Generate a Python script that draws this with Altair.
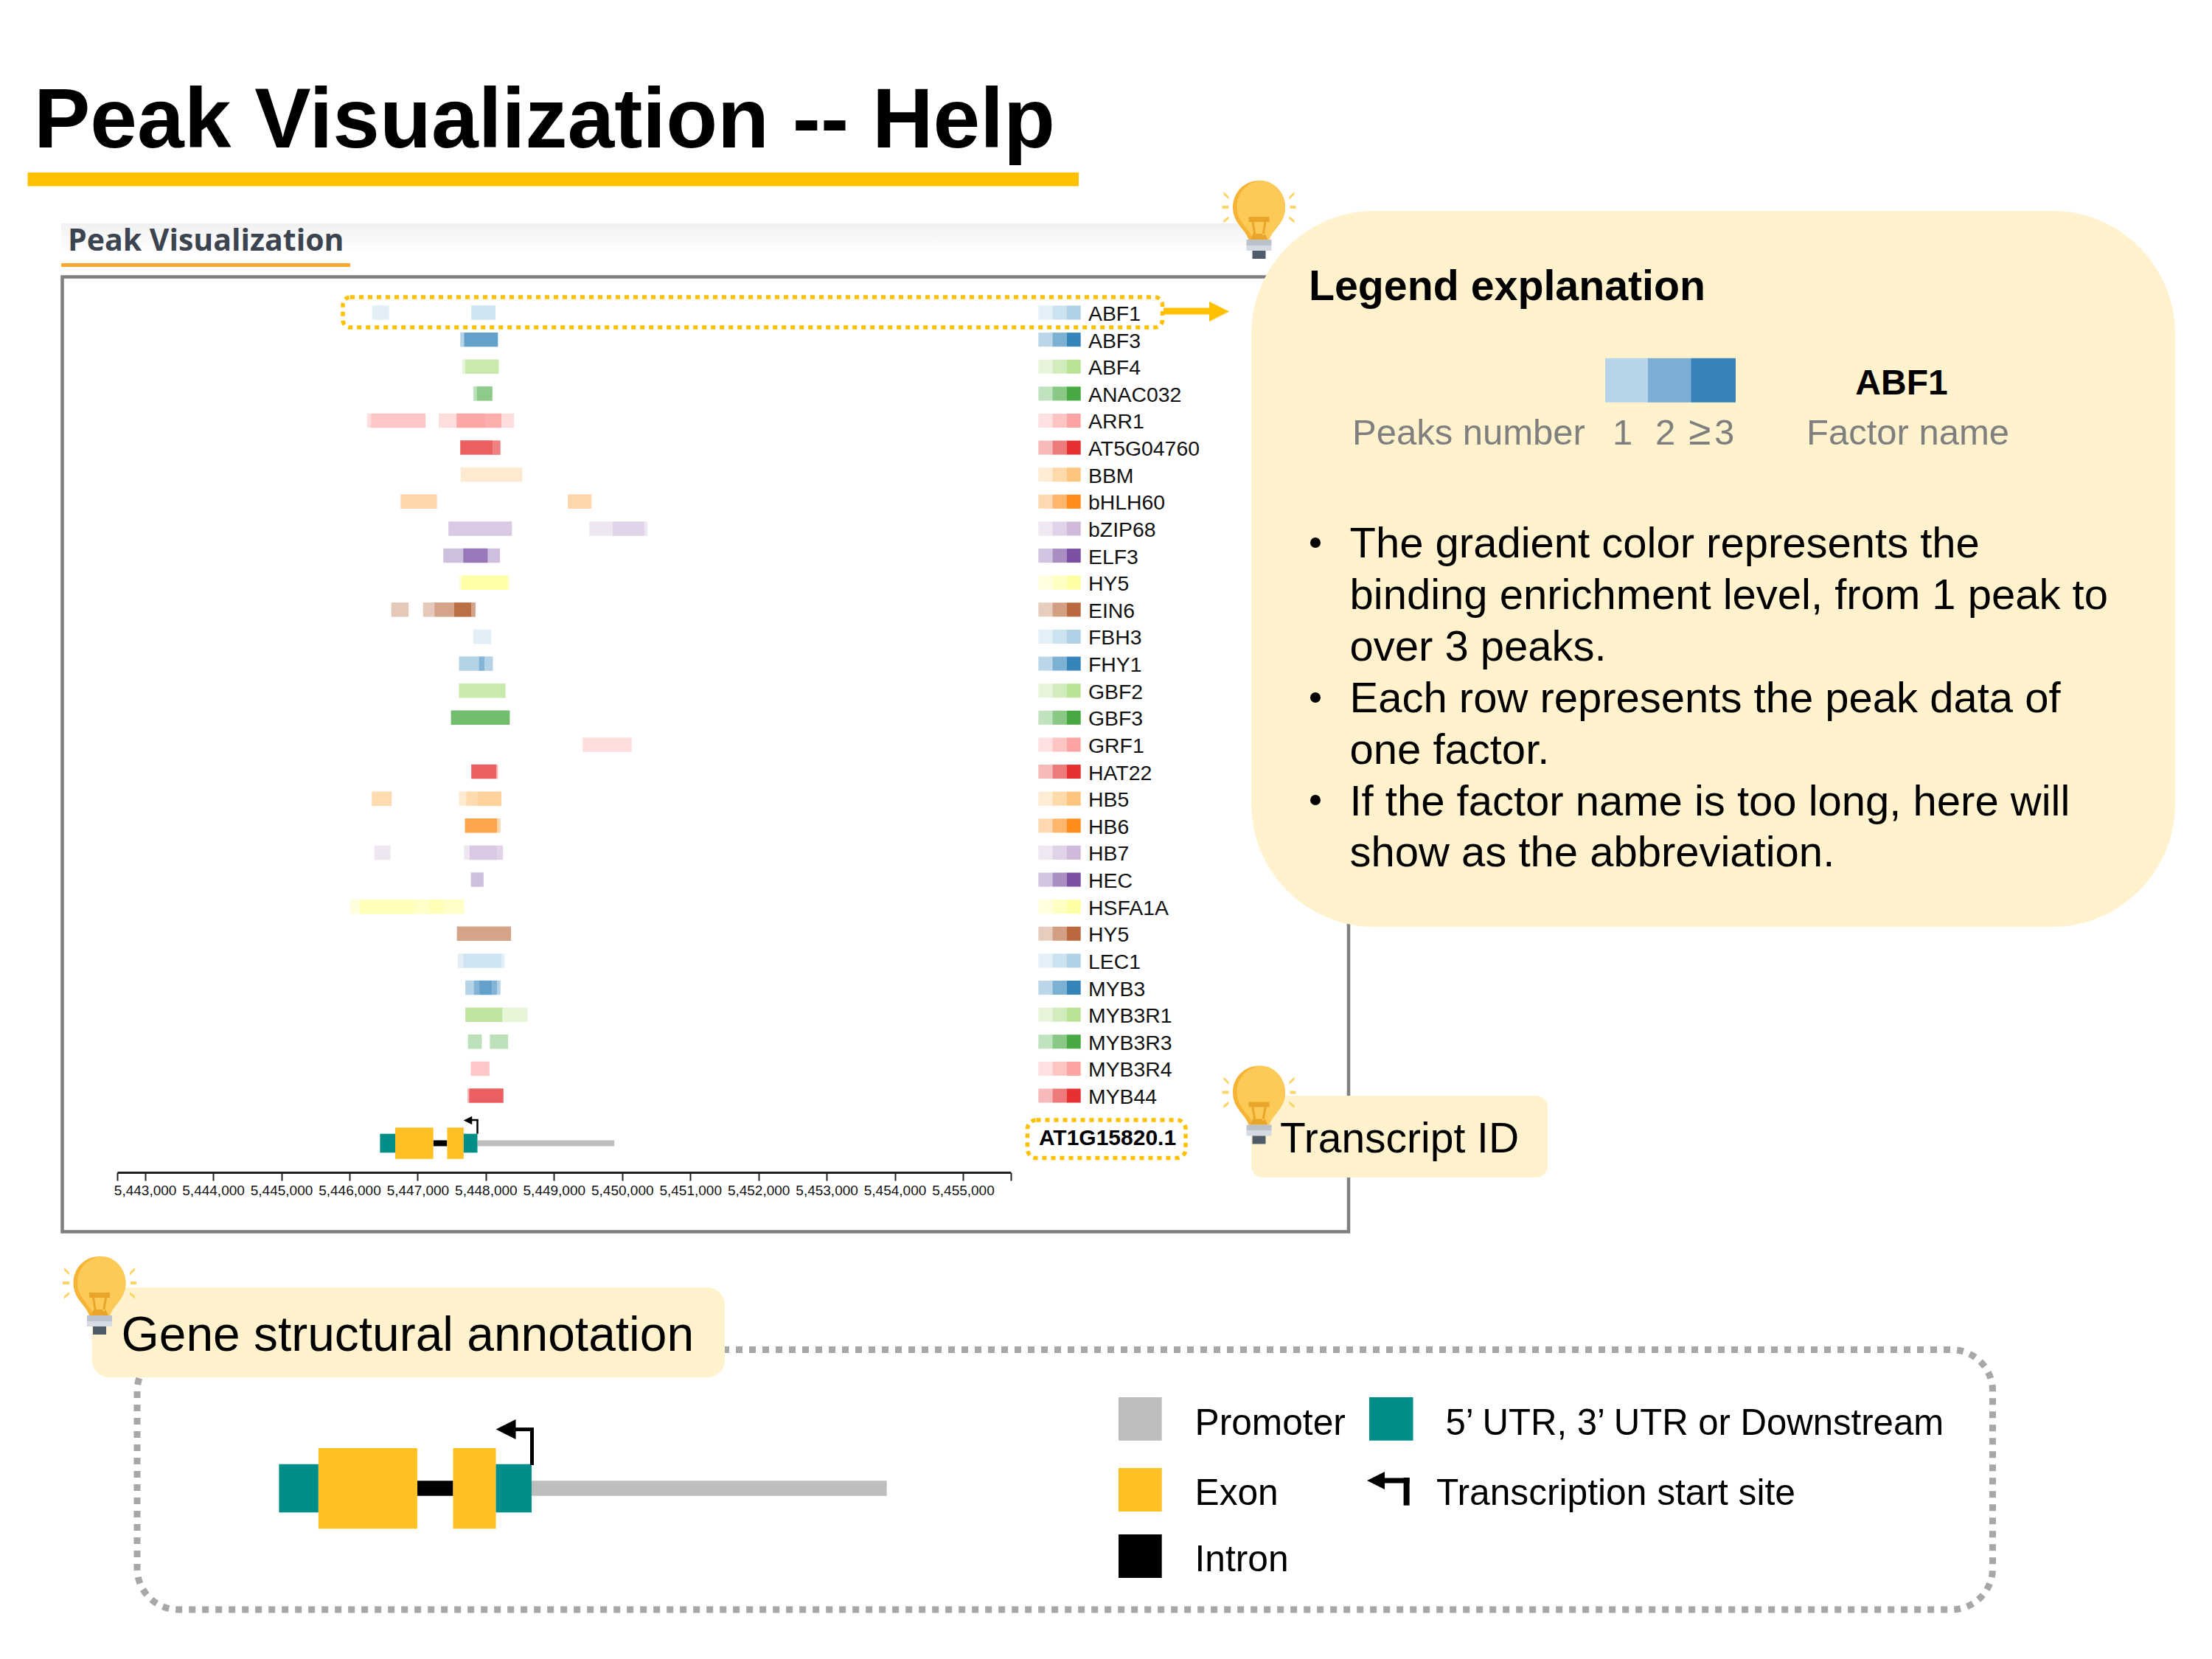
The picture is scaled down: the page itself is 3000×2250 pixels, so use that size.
import altair as alt
import pandas as pd

W, H = 2970, 2220
SANS = "Liberation Sans"

factors = ["ABF1","ABF3","ABF4","ANAC032","ARR1","AT5G04760","BBM","bHLH60","bZIP68","ELF3",
           "HY5","EIN6","FBH3","FHY1","GBF2","GBF3","GRF1","HAT22","HB5","HB6","HB7","HEC",
           "HSFA1A","HY5","LEC1","MYB3","MYB3R1","MYB3R3","MYB3R4","MYB44"]
paired = ["#a6cee3","#1f78b4","#b2df8a","#33a02c","#fb9a99","#e31a1c",
          "#fdbf6f","#ff7f00","#cab2d6","#6a3d9a","#ffff99","#b15928"]

# (start, end, overlapping peaks) per factor, genome coordinates
peaks = [
 [(5446334,5446582,1),(5447787,5448141,2)],
 [(5447625,5447681,1),(5447681,5448178,3)],
 [(5447656,5447700,1),(5447700,5448190,3)],
 [(5447818,5447867,1),(5447867,5448097,2)],
 [(5446259,5446315,1),(5446315,5447116,2),(5447309,5447570,1),(5447570,5448010,5),(5448010,5448228,4),(5448228,5448414,1)],
 [(5447625,5448104,3),(5448104,5448215,2)],
 [(5447632,5448538,1)],
 [(5446750,5447284,1),(5449203,5449550,1)],
 [(5447452,5448383,3),(5449519,5449861,1),(5449861,5450326,2),(5450326,5450370,1)],
 [(5447377,5447669,1),(5447669,5448029,3),(5448029,5448209,1)],
 [(5447607,5447644,1),(5447644,5448327,5),(5448327,5448352,1)],
 [(5446613,5446868,1),(5447079,5447247,1),(5447247,5447532,2),(5447532,5447787,5),(5447787,5447849,2)],
 [(5447818,5448079,1)],
 [(5447607,5447899,1),(5447899,5447979,2),(5447979,5448104,1)],
 [(5447607,5448290,3)],
 [(5447489,5448352,3)],
 [(5449420,5450140,1)],
 [(5447787,5448153,3),(5448153,5448178,1)],
 [(5446328,5446620,2),(5447607,5447712,1),(5447712,5447874,2),(5447874,5448228,3)],
 [(5447694,5448165,3),(5448165,5448215,1)],
 [(5446365,5446601,1),(5447681,5447762,1),(5447762,5448165,3),(5448165,5448253,2)],
 [(5447781,5447967,1)],
 [(5446011,5446148,1),(5446148,5446942,3),(5446942,5447160,2),(5447160,5447383,3),(5447383,5447681,2)],
 [(5447576,5448370,2)],
 [(5447588,5447669,1),(5447669,5448228,2),(5448228,5448277,1)],
 [(5447700,5447824,1),(5447824,5447905,2),(5447905,5448091,3),(5448091,5448165,2),(5448165,5448215,1)],
 [(5447700,5448240,4),(5448240,5448613,1)],
 [(5447737,5447942,1),(5448060,5448327,1)],
 [(5447781,5448054,2)],
 [(5447731,5447756,1),(5447756,5448259,3)],
]
swatch_levels = [1, 2, 3]
swatch_alpha = [0.3, 0.58, 0.9]
axis_ticks = list(range(5443000, 5456000, 1000))
axis_ends = [5442593, 5455700]

# gene model, genome coordinates
gene_start = [5447877, 5447230, 5446448, 5446671, 5447433, 5447675]
gene_end   = [5449886, 5447433, 5446671, 5447230, 5447675, 5447877]
gene_kind  = ["Promoter","Intron","UTR","Exon","Exon","UTR"]
kind_color = {"Promoter":"#bdbdbd","Intron":"#000000","UTR":"#008f88","Exon":"#ffc024"}
kind_height = {"Promoter":8,"Intron":8,"UTR":25.6,"Exon":42.7}

bullet_lines = ["The gradient color represents the","binding enrichment level, from 1 peak to","over 3 peaks.",
                "Each row represents the peak data of","one factor.",
                "If the factor name is too long, here will","show as the abbreviation."]

# ---------- scales
PX = alt.Scale(domain=[8, 8+W], range=[0, W], nice=False, zero=False)
PY = alt.Scale(domain=[8, 8+H], range=[0, H], nice=False, zero=False)
GX = alt.Scale(domain=axis_ends, range=[159-8, 1370.7-8], nice=False, zero=False)
GX2 = alt.Scale(domain=[5446448, 5449886], range=[378.4-8, 1202.6-8], nice=False, zero=False)
ROW = alt.Scale(domain=[0, 29], range=[424-8, 1486-8], nice=False, zero=False)
noax = dict(axis=None)

def X(f, s=PX, **k): return alt.X(f, scale=s, **(k or noax))
def Y(f, s=PY): return alt.Y(f, scale=s, axis=None)

layers = []

def rect(x0, y0, x1, y1, fill=None, r=0, stroke=None, sw=0, dash=None):
    args = dict(cornerRadius=r) if r else {}
    if fill: args["fill"] = fill
    else: args["filled"] = False; args["fillOpacity"] = 0
    if stroke: args.update(stroke=stroke, strokeWidth=sw)
    if dash: args["strokeDash"] = dash
    df = pd.DataFrame({"a":[x0],"b":[x1],"c":[y0],"d":[y1]})
    layers.append(alt.Chart(df).mark_rect(**args).encode(
        x=X("a:Q"), x2="b:Q", y=Y("c:Q"), y2="d:Q"))

def seg(x0, y0, x1, y1, color, w):
    df = pd.DataFrame({"a":[x0],"b":[x1],"c":[y0],"d":[y1]})
    layers.append(alt.Chart(df).mark_rule(color=color, strokeWidth=w).encode(
        x=X("a:Q"), x2="b:Q", y=Y("c:Q"), y2="d:Q"))

def text(rows, size, color="#000000", weight="normal", font=SANS, align="left"):
    df = pd.DataFrame(rows, columns=["x","y","t"])
    layers.append(alt.Chart(df).mark_text(fontSize=size, color=color, fontWeight=weight, font=font,
                                          align=align, baseline="alphabetic").encode(
        x=X("x:Q"), y=Y("y:Q"), text="t:N"))

def shape(points, path, box, color):
    """draw a vector glyph (unit path in a box px wide) at page points"""
    df = pd.DataFrame(points, columns=["x","y"])
    layers.append(alt.Chart(df).mark_point(shape=path, size=box*box, filled=True, fill=color,
                                           opacity=1, strokeWidth=0).encode(x=X("x:Q"), y=Y("y:Q")))

# ---------- page title
text([(46, 200, "Peak Visualization -- Help")], 114.5, weight="bold")
rect(37.5, 234, 1463, 252.5, fill="#ffc000")

# ---------- peak panel chrome
grad = alt.Gradient(gradient="linear", x1=0, x2=0, y1=0, y2=1,
                    stops=[alt.GradientStop(color="#f2f2f2", offset=0), alt.GradientStop(color="#ffffff", offset=1)])
df = pd.DataFrame({"a":[83],"b":[1700],"c":[305],"d":[342]})
layers.append(alt.Chart(df).mark_rect(fill=grad).encode(x=X("a:Q"), x2="b:Q", y=Y("c:Q"), y2="d:Q"))
seg(83, 304, 1700, 304, "#f0f0f0", 2)
text([(92, 340, "Peak Visualization")], 41, color="#3c4450", weight="bold", font="Open Sans")
rect(83, 357, 475, 362, fill="#fbaa2e")
rect(84.5, 375.5, 1829, 1670.5, stroke="#7f7f7f", sw=4.5)

# ---------- peaks
pk = pd.DataFrame([dict(row=i, start=s, end=e, n=n, color=paired[i % 12])
                   for i, p in enumerate(peaks) for s, e, n in p])
layers.append(alt.Chart(pk).transform_calculate(y0="datum.row-0.266", y1="datum.row+0.266",
                                                 op="1-pow(0.67,datum.n)").mark_rect().encode(
    x=alt.X("start:Q", scale=GX, title=None, axis=alt.Axis(
        values=axis_ends[:1]+axis_ticks+axis_ends[1:], orient="bottom", offset=1590-(8+H), grid=False,
        labelExpr="datum.value<5443000||datum.value>5455000?'':format(datum.value,',')",
        labelFont=SANS, labelFontSize=19, labelColor="#111111", labelPadding=4, labelOverlap=False, labelFlush=False,
        tickSize=11, tickWidth=2, tickColor="#222222", domainWidth=3, domainColor="#222222", title=None)),
    x2="end:Q", y=Y("y0:Q", ROW), y2="y1:Q",
    fill=alt.Fill("color:N", scale=None), opacity=alt.Opacity("op:Q", scale=None)))

# ---------- factor swatches and names
sw = pd.DataFrame([dict(row=i, level=l, a=a, color=paired[i % 12])
                   for i in range(len(factors)) for l, a in zip(swatch_levels, swatch_alpha)])
layers.append(alt.Chart(sw).transform_calculate(y0="datum.row-0.26", y1="datum.row+0.26").mark_rect().encode(
    x=alt.X("level:O", scale=alt.Scale(domain=swatch_levels, range=[1408.3-8, 1465.7-8], paddingInner=0, paddingOuter=0), axis=None),
    y=Y("y0:Q", ROW), y2="y1:Q", fill=alt.Fill("color:N", scale=None), opacity=alt.Opacity("a:Q", scale=None)))
names = pd.DataFrame({"row":range(len(factors)), "name":factors})
layers.append(alt.Chart(names).mark_text(font=SANS, fontSize=28.4, color="#111111", align="left", baseline="middle", dy=2).encode(
    x=alt.value(1476-8), y=Y("row:Q", ROW), text="name:N"))

# highlight boxes
rect(465, 403, 1576.5, 444, stroke="#ffc000", sw=5.5, dash=[6,6], r=10)
seg(1578, 422, 1642, 422, "#ffc000", 9)
shape([(1653.5, 422.5)], "M -1 -1 L 1 0 L -1 1 Z", 27, "#ffc000")
rect(1393.5, 1519, 1608, 1570.5, stroke="#ffc000", sw=5.5, dash=[6,6], r=12)
text([(1502, 1553, "AT1G15820.1")], 30, weight="bold", align="center")

# ---------- gene models (same data, two x scales)
def gene(scale, yc, k):
    g = pd.DataFrame({"s":gene_start,"e":gene_end,"kind":gene_kind})
    g["c"] = g.kind.map(kind_color)
    g["y0"] = [yc - kind_height[t]*k/2 for t in gene_kind]
    g["y1"] = [yc + kind_height[t]*k/2 for t in gene_kind]
    layers.append(alt.Chart(g).mark_rect().encode(
        x=alt.X("s:Q", scale=scale, axis=None), x2="e:Q", y=Y("y0:Q"), y2="y1:Q",
        fill=alt.Fill("c:N", scale=None)))

gene(GX, 1550.5, 1)
seg(647.5, 1537.7, 647.5, 1518.5, "#000000", 2.5)
seg(648.7, 1519, 636, 1519, "#000000", 2.5)
shape([(634.5, 1519.5)], "M 1 -1 L -1 0 L 1 1 Z", 11.5, "#000000")

# ---------- annotation
rect(186, 1830.5, 2702.5, 2183, stroke="#a8a6a6", sw=9, dash=[9,9], r=56)
gene(GX2, 2018.6, 2.56)
seg(721.5, 1987, 721.5, 1938.6, "#000000", 5)
seg(724, 1938.6, 696, 1938.6, "#000000", 5)
shape([(686, 1938.6)], "M 1 -1 L -1 0 L 1 1 Z", 27, "#000000")

for (x0,y0,x1,y1,c) in [(1517,1895,1575.7,1953.7,"#bdbdbd"),(1857,1895,1916.5,1953.7,"#008f88"),
                        (1517,1991,1575.7,2050,"#ffc024"),(1517,2081,1575.7,2140,"#000000")]:
    rect(x0,y0,x1,y1,fill=c)
text([(1620.5,1945.5,"Promoter"),(1620.5,2041,"Exon"),(1948,2041,"Transcription start site"),(1620.5,2131,"Intron")], 49.7)
text([(1960.5,1945.5,"5’ UTR, 3’ UTR or Downstream")], 49.1)
seg(1907.6, 2041.7, 1907.6, 2004, "#000000", 8)
seg(1911.6, 2008, 1876, 2008, "#000000", 7)
shape([(1866, 2008)], "M 1 -1 L -1 0 L 1 1 Z", 24, "#000000")

# ---------- callout panels
rect(1697, 286, 2950, 1257, fill="#fff2cc", r=167)
rect(1697, 1486, 2099, 1597, fill="#fff2cc", r=16)
rect(124.5, 1746, 983, 1868, fill="#fff2cc", r=24)

text([(1775, 407, "Legend explanation")], 57.3, weight="bold")
for x0, x1, c in [(2177,2236,"#b8d4e9"),(2235,2294,"#7cadd3"),(2293.5,2354,"#3782bb")]:
    rect(x0, 485.7, x1, 545.7, fill=c)
text([(2579, 535, "ABF1")], 48, weight="bold", align="center")
text([(1834,603,"Peaks number"),(2187,603,"1"),(2245,603,"2"),(2325,603,"3"),(2450,603,"Factor name")], 49, color="#7f7f7f")
text([(2290,603,"≥")], 55, color="#7f7f7f")
base = [756, 826, 896, 966, 1036, 1106, 1175]
text([(1830.5, b, t) for b, t in zip(base, bullet_lines)], 58)
dots = pd.DataFrame({"x":[1784,1784,1784],"y":[736,946,1085]})
layers.append(alt.Chart(dots).mark_point(shape="circle", size=196, filled=True, fill="#000000", opacity=1, strokeWidth=0).encode(
    x=X("x:Q"), y=Y("y:Q")))

# ---------- light bulbs: glyphs are given in px around the bulb's top centre
BULB = [(1707.5, 245), (1707.5, 1445.5), (135, 1704)]
BOX = 106
def P(s):
    res, isx = [], True
    for tok in s.split():
        if tok.isalpha():
            res.append(tok); isx = True
        else:
            v = float(tok)
            res.append(f"{v/53:.4f}" if isx else f"{(v-53)/53:.4f}")
            isx = not isx
    return " ".join(res)
def bulb_part(path, color):
    shape([(x, y+53) for x, y in BULB], P(path), BOX, color)
def ray(x0,y0,x1,y1,w=2):
    return f"M {x0} {y0-w} L {x1} {y1-w} L {x1} {y1+w} L {x0} {y0+w} Z "

rays = (ray(-50,36,-41,36)+ray(42,36,50,36)+ray(-48,17,-41,23.5)+ray(48,17,41,23.5)
        +ray(-48,55.5,-41,50)+ray(48,55.5,41,50))
bulb_part(rays, "#fdd468")
bulb_part("M -14 80 C -18 66 -35.5 58 -35.5 36 C -35.5 16 -20 0 0 0 C 20 0 35.5 16 35.5 36 C 35.5 58 18 66 14 80 Z", "#f6b436")
bulb_part("M -8 80 C -12 66 -30 56 -30 36 C -30 16 -16 2 3 0 C 20 0 35.5 16 35.5 36 C 35.5 58 18 66 14 80 Z", "#fdca58")
bulb_part("M -14 49 L 14 49 L 14 56 L -14 56 Z M -10 56 L -7 56 L -4 74 L -7 74 Z M 10 56 L 7 56 L 4 74 L 7 74 Z M -8 72 L 8 72 L 12 80 L -12 80 Z", "#e8a52a")
bulb_part("M -17 80 L 17 80 L 17 88 L -17 88 Z", "#bcc2cb")
bulb_part("M -17 88 L 17 88 L 17 95 L -17 95 Z", "#d6dbe3")
bulb_part("M -9 95 L 9 95 L 9 106 L -9 106 Z", "#4e5b68")

text([(1736, 1562.5, "Transcript ID")], 57)
text([(164.5, 1832, "Gene structural annotation")], 65.9)

chart = alt.layer(*layers).resolve_scale(x="independent", y="independent").properties(
    width=W, height=H, padding=0, background="#ffffff",
    autosize=alt.AutoSizeParams(type="none", contains="padding")
).configure_view(strokeWidth=0)
chart.save("out.html", embed_options={"renderer": "svg", "actions": False})
